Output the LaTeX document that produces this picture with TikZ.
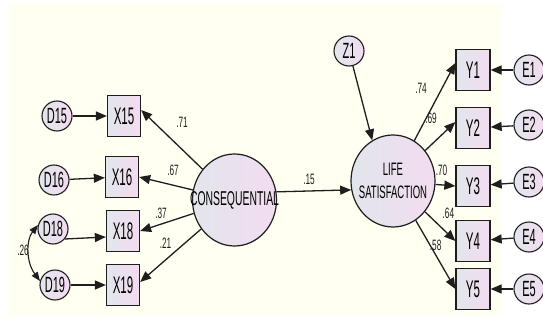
\documentclass[tikz,border=0pt]{standalone}
\usepackage{fontspec}
\setmainfont{Liberation Sans}
\usepackage{graphicx}
\usetikzlibrary{arrows.meta,shapes.geometric,calc}
\definecolor{cream}{RGB}{255,255,242}
\definecolor{lgA}{RGB}{226,230,236}
\definecolor{lgB}{RGB}{243,220,240}
\definecolor{ink}{RGB}{30,30,30}
\newcommand\nar[2][0.48]{\scalebox{#1}[1]{#2}}
\newcommand\zw[1]{\makebox[0pt][c]{#1}}
\begin{document}
\begin{tikzpicture}[x=1pt,y=-1pt,
  obs/.style={draw=ink, line width=1.3pt, left color=lgA, right color=lgB, minimum width=33pt, minimum height=41pt, inner sep=0pt, font=\fontsize{24}{24}\selectfont},
  err/.style={circle, draw=ink, line width=1.1pt, left color=lgA, right color=lgB, minimum size=30pt, inner sep=0pt, font=\fontsize{22}{22}\selectfont},
  lat/.style={ellipse, draw=ink, line width=1.2pt, left color=lgA, right color=lgB, minimum width=84pt, minimum height=92pt, inner sep=0pt},
  arr/.style={draw=ink, line width=1.3pt, -{Triangle[length=11pt,width=9pt]}},
  cov/.style={draw=ink, line width=1.1pt, {Triangle[length=9pt,width=7pt]}-{Triangle[length=9pt,width=7pt]}},
  lab/.style={font=\fontsize{15}{15}\selectfont, inner sep=0pt, text=ink},
]
\useasboundingbox (0,0) rectangle (543,321);
\fill[white] (0,0) rectangle (543,321);
\fill[cream] (7,3) rectangle (502,316);

\node[err] (D15) at (57,116) {\nar[0.5]{D15}};
\node[obs] (X15) at (124,116) {\nar{X15}};
\node[err] (D16) at (54,180) {\nar[0.5]{D16}};
\node[obs] (X16) at (122,177) {\nar{X16}};
\node[err] (D18) at (53,229) {\nar[0.5]{D18}};
\node[obs] (X18) at (123,231) {\nar{X18}};
\node[err] (D19) at (55,285) {\nar[0.5]{D19}};
\node[obs] (X19) at (123,285) {\nar{X19}};

\node[lat] (CONS) at (234.5,200) {\zw{\fontsize{20}{20}\selectfont\nar[0.52]{CONSEQUENTIAL}}};
\node[lat, align=center, font=\fontsize{18}{23}\selectfont] (LIFE) at (393,181) {\zw{\nar[0.53]{LIFE}}\\\zw{\nar[0.53]{SATISFACTION}}};
\node[err] (Z1) at (349,51) {\nar[0.5]{Z1}};

\node[obs, minimum width=34pt] (Y1) at (473,70) {\nar{Y1}};
\node[obs, minimum width=34pt] (Y2) at (473,128) {\nar{Y2}};
\node[obs, minimum width=34pt] (Y3) at (473,186) {\nar{Y3}};
\node[obs, minimum width=34pt] (Y4) at (473,241) {\nar{Y4}};
\node[obs, minimum width=34pt] (Y5) at (473,289) {\nar{Y5}};
\node[err] (E1) at (529,70) {\nar[0.5]{E1}};
\node[err] (E2) at (529,125) {\nar[0.5]{E2}};
\node[err] (E3) at (529,182) {\nar[0.5]{E3}};
\node[err] (E4) at (529,237) {\nar[0.5]{E4}};
\node[err] (E5) at (529,289) {\nar[0.5]{E5}};

\draw[arr] (D15) -- (X15);
\draw[arr] (D16) -- (X16);
\draw[arr] (D18.-40) -- ([yshift=-6pt]X18.west);
\draw[arr] (D19) -- (X19);
\draw[cov] (D18.165) .. controls (26,240) and (26,262) .. (D19.165);

\draw[arr] (CONS) -- ([yshift=6pt]X15.east);
\draw[arr] (CONS) -- (X16.east);
\draw[arr] (CONS) -- (X18.east);
\draw[arr] (CONS) -- ([yshift=3pt]X19.east);
\draw[arr] (CONS.11) -- (LIFE.192);
\draw[arr] (Z1) -- (LIFE.117);

\draw[arr] (LIFE) -- ([yshift=7pt]Y1.west);
\draw[arr] (LIFE) -- ([yshift=6pt]Y2.west);
\draw[arr] (LIFE) -- (Y3.west);
\draw[arr] (LIFE) -- (Y4.west);
\draw[arr] (LIFE) -- (Y5.west);
\draw[arr] (E1) -- (Y1);
\draw[arr] (E2) -- (Y2);
\draw[arr] (E3) -- (Y3);
\draw[arr] (E4) -- (Y4);
\draw[arr] (E5) -- (Y5);

\node[lab] (l71) at (182,122) {\nar[0.55]{.71}};
\node[lab] (l67) at (173,170) {\nar[0.55]{.67}};
\node[lab] (l37) at (161,213) {\nar[0.55]{.37}};
\node[lab] (l21) at (165.5,243) {\nar[0.55]{.21}};
\node[lab] (l26) at (23,250) {\nar[0.55]{.26}};
\node[lab] (l15) at (309,179) {\nar[0.55]{.15}};
\node[lab] (l74) at (421,88) {\nar[0.55]{.74}};
\node[lab] (l69) at (431,118) {\nar[0.55]{.69}};
\node[lab] (l70) at (441.5,170) {\nar[0.55]{.70}};
\node[lab] (l64) at (448.4,213) {\nar[0.55]{.64}};
\node[lab] (l58) at (435.6,245) {\nar[0.55]{.58}};
\end{tikzpicture}
\end{document}
